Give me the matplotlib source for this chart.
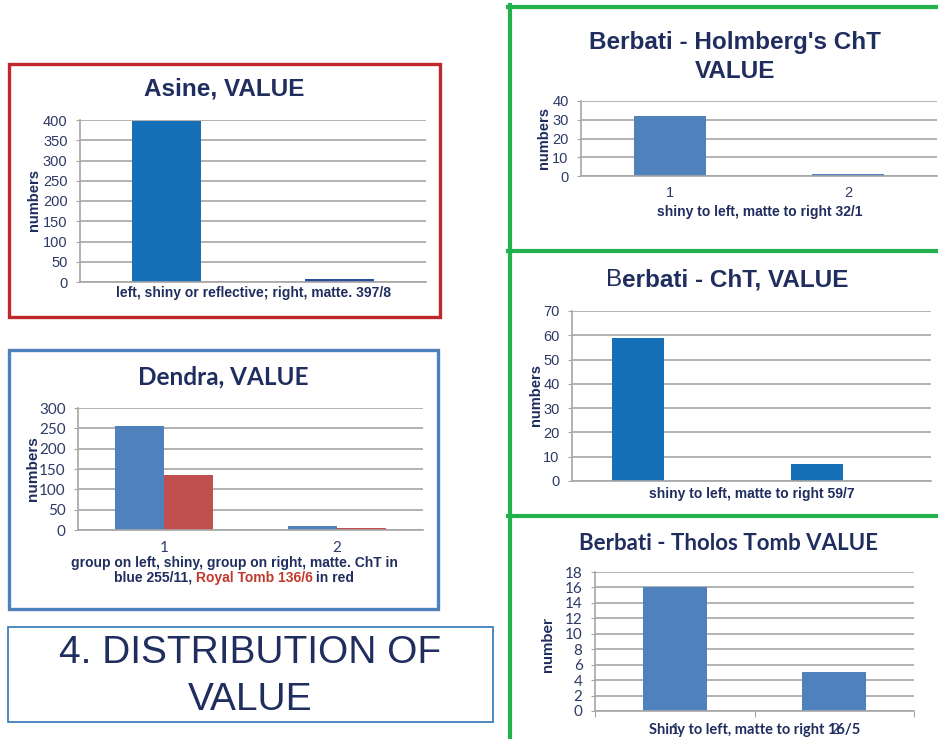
import matplotlib
matplotlib.use("Agg")
import matplotlib.pyplot as plt
from matplotlib.patches import Rectangle
from matplotlib.lines import Line2D

# data
asine_vals = [397, 8]
dendra_cht = [255, 11]
dendra_royal = [136, 6]
holmberg_vals = [32, 1]
cht_vals = [59, 7]
tholos_vals = [16, 5]
cat_labels = ["1", "2"]

W, H = 938, 739
NAVY = "#1F2D5F"
TICKC = "#2E3A66"
GRID = "#A6A6A6"
ARIAL = "Liberation Sans"
CALI = "Lato"

fig = plt.figure(figsize=(W / 100, H / 100), dpi=100)
fig.patch.set_facecolor("white")


def fx(x):
    return x / W


def fy(y):
    return 1 - y / H


def axes_px(l, t, r, b):
    return fig.add_axes([fx(l), fy(b), fx(r - l), (b - t) / H])


def box(l, t, r, b, color, lw):
    fig.patches.append(Rectangle((fx(l), fy(b)), fx(r - l), (b - t) / H,
                                 transform=fig.transFigure, fill=False,
                                 edgecolor=color, linewidth=lw))


def hline(x0, x1, y, color, lw):
    fig.lines.append(Line2D([fx(x0), fx(x1)], [fy(y), fy(y)],
                            transform=fig.transFigure, color=color, lw=lw))


def txt(x, y, s, **kw):
    kw.setdefault("color", NAVY)
    kw.setdefault("ha", "center")
    kw.setdefault("va", "center")
    return fig.text(fx(x), fy(y), s, **kw)


def style(ax, ymax, step, font, fs=10.5):
    ax.set_ylim(0, ymax)
    ax.set_yticks(range(0, ymax + 1, step))
    ax.yaxis.grid(True, color=GRID, lw=1.2)
    ax.set_axisbelow(True)
    for s in ["top", "right"]:
        ax.spines[s].set_visible(False)
    ax.spines["left"].set_color(GRID)
    ax.spines["bottom"].set_color(GRID)
    ax.spines["left"].set_linewidth(1.2)
    ax.spines["bottom"].set_linewidth(1.2)
    ax.tick_params(axis="y", length=3, color=GRID, pad=6, labelsize=fs,
                   labelcolor=TICKC)
    for lab in ax.get_yticklabels():
        lab.set_family(font)
    ax.set_facecolor("none")


# ---- Asine ----
box(9, 64, 440, 317, "#C0272D", 2.4)
ax = axes_px(80, 120, 426, 282)
ax.bar([0, 1], asine_vals, width=0.4, color=["#1570B8", "#2B4C9B"])
ax.set_xlim(-0.5, 1.5)
style(ax, 400, 50, ARIAL)
ax.set_xticks([])
txt(224, 89, "Asine, VALUE", family=ARIAL, weight="bold", fontsize=17.5)
txt(34, 200, "numbers", family=ARIAL, weight="bold", fontsize=10.5, rotation=90)
txt(253, 293, "left, shiny or reflective; right, matte. 397/8", family=ARIAL,
    weight="bold", fontsize=10)

# ---- Dendra ----
box(9, 350, 438, 609, "#4F81BD", 2.4)
ax = axes_px(78, 408, 423, 530)
ax.bar([-0.142, 0.858], dendra_cht, width=0.285, color="#4F81BD")
ax.bar([0.142, 1.142], dendra_royal, width=0.285, color="#C0504D")
ax.set_xlim(-0.5, 1.5)
style(ax, 300, 50, CALI, fs=11)
ax.set_xticks([])
for i, s in enumerate(cat_labels):
    ax.text(i, -0.15, s, transform=ax.get_xaxis_transform(), ha="center",
            va="center", family=CALI, fontsize=11, color=TICKC)
txt(223, 377, "Dendra, VALUE", family=CALI, weight="bold", fontsize=17.5)
txt(33, 469, "numbers", family=ARIAL, weight="bold", fontsize=11, rotation=90)
txt(234, 563, "group on left, shiny, group on right, matte. ChT in",
    family=ARIAL, weight="bold", fontsize=10)
parts = [("blue 255/11, ", NAVY), ("Royal Tomb 136/6", "#C0392B"), (" in red", NAVY)]
rend = fig.canvas.get_renderer()
objs = [txt(0, 578, p, color=c, family=ARIAL, weight="bold", fontsize=10, ha="left")
        for p, c in parts]
widths = [o.get_window_extent(rend).width for o in objs]
x = 234 - sum(widths) / 2
for o, w in zip(objs, widths):
    o.set_x(fx(x))
    x += w

# ---- green frames on the right ----
fig.lines.append(Line2D([fx(509.5), fx(509.5)], [fy(5), fy(739)],
                        transform=fig.transFigure, color="#22B14C", lw=3))
for yy in [7, 251, 516]:
    hline(508, 938, yy, "#22B14C", 3)

# ---- Berbati Holmberg ----
ax = axes_px(581, 101, 937, 176)
ax.bar([0, 1], holmberg_vals, width=0.4, color="#4F81BD")
ax.set_xlim(-0.5, 1.5)
style(ax, 40, 10, ARIAL)
ax.set_xticks([])
for i, s in enumerate(cat_labels):
    ax.text(i, -0.23, s, transform=ax.get_xaxis_transform(), ha="center",
            va="center", family=ARIAL, fontsize=10.5, color=TICKC)
txt(735, 42, "Berbati - Holmberg's ChT", family=ARIAL, weight="bold", fontsize=17.5)
txt(735, 71, "VALUE", family=ARIAL, weight="bold", fontsize=17.5)
txt(544, 138, "numbers", family=ARIAL, weight="bold", fontsize=10.5, rotation=90)
txt(760, 212, "shiny to left, matte to right 32/1", family=ARIAL,
    weight="bold", fontsize=10)

# ---- Berbati ChT ----
ax = axes_px(572, 311, 931, 481)
ax.bar([0, 1], cht_vals, width=0.29, color="#1570B8")
ax.set_xlim(-0.37, 1.64)
style(ax, 70, 10, ARIAL)
ax.set_xticks([])
t1 = txt(0, 280, "B", family=ARIAL, fontsize=17.5, ha="left")
t2 = txt(0, 280, "erbati - ChT, VALUE", family=ARIAL, weight="bold",
         fontsize=17.5, ha="left")
w1 = t1.get_window_extent(rend).width
w2 = t2.get_window_extent(rend).width
x0 = 727 - (w1 + w2) / 2
t1.set_x(fx(x0))
t2.set_x(fx(x0 + w1))
txt(536, 395, "numbers", family=ARIAL, weight="bold", fontsize=10.5, rotation=90)
txt(752, 494, "shiny to left, matte to right 59/7", family=ARIAL,
    weight="bold", fontsize=10)

# ---- Berbati Tholos ----
ax = axes_px(595, 572, 914, 711)
ax.bar([0, 1], tholos_vals, width=0.4, color="#4F81BD")
ax.set_xlim(-0.5, 1.5)
style(ax, 18, 2, CALI, fs=11)
ax.set_xticks([-0.5, 0.5, 1.5])
ax.set_xticklabels([])
ax.tick_params(axis="x", length=4, color=GRID)
# in the source the category numbers sit on top of the axis title
for i, s in enumerate(cat_labels):
    ax.text(i, -0.137, s, transform=ax.get_xaxis_transform(), ha="center",
            va="center", family=CALI, fontsize=11, color=TICKC)
txt(728, 543, "Berbati - Tholos Tomb VALUE", family=CALI, weight="bold", fontsize=16)
txt(548, 645, "number", family=CALI, weight="bold", fontsize=11.5, rotation=90)
txt(755, 730, "Shiny to left, matte to right 16/5", family=CALI,
    weight="bold", fontsize=10.5)

# ---- heading box ----
box(8, 627, 493, 722, "#2E75B6", 1.2)
txt(250, 653, "4. DISTRIBUTION OF", family=ARIAL, fontsize=28)
txt(250, 700, "VALUE", family=ARIAL, fontsize=28)

fig.savefig("out.png", dpi=100)
